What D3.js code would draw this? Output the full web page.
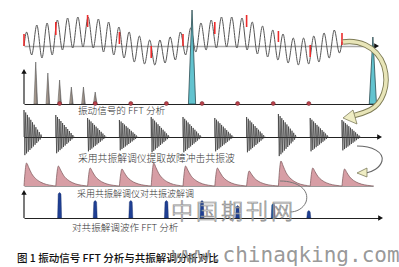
<!DOCTYPE html>
<html>
<head>
<meta charset="utf-8">
<script src="https://cdn.jsdelivr.net/npm/d3@7/dist/d3.min.js"></script>
<style>
  body { margin: 0; background: #fff; }
  svg { display: block; }
</style>
</head>
<body>
<div id="chart"></div>
<script>
/* Vibration signal FFT vs. resonance demodulation — schematic figure */

// ── Raw vibration signal: crest / trough of each carrier cycle (px-like units, up = +)
const crest  = [14, 21, 23, 26, 28, 29, 29, 27, 24, 19, 14, 10, 6, 6, 9, 14,
                18, 23, 26, 29, 29, 28, 24, 20, 16, 12, 8, 8, 10, 13, 16];
const trough = [-9, -12, -9, -4, -2, -1, -2, -6, -9, -12, -16, -18, -19, -17, -14, -9,
                -6, -4, -2, -1, -2, -4, -8, -11, -14, -17, -19, -18, -16, -12, -7];
const waveStart = 0, waveEnd = 4;

// fault impulses (one per impulse period) drawn as red spikes on the signal
const spikeLow  = [0, 11, 19, 2, -12, 0, 12, 19, 4, -11, 1];
const spikeHigh = [12, 24, 31, 14, 0, 12, 24, 31, 15, 1, 13];

// ── FFT of raw signal
const harmFreq = [0.33, 0.67, 1, 1.33, 1.67, 2];
const harmAmp  = [42, 31, 24, 17, 17, 12];
const faultFreq = [1, 2, 3, 4, 5, 6, 7, 8];
const resFreq = [4.72, 9.8];
const resAmp  = [94, 67];

// ── resonance bursts extracted by the demodulator
const burstUp   = [27, 22, 19, 17, 20, 20, 19, 20, 23, 19, 17];
const burstDown = [19, 17, 15, 14, 16, 16, 15, 16, 20, 15, 14];

// ── demodulated envelope
const envAmp = [23, 20, 18, 17, 23, 20, 18, 15, 25, 18, 17];
const envShape = [[0, 0], [0.03, 0.55], [0.08, 1], [0.15, 0.8], [0.24, 0.54], [0.36, 0.33],
                  [0.52, 0.17], [0.7, 0.07], [0.92, 0.015], [1, 0]];

// ── FFT of envelope
const demodAmp = [26, 18, 18, 18, 18, 13, 15, 8];

const captions = ['振动信号的 FFT 分析', '采用共振解调仪提取故障冲击共振波',
                  '采用共振解调仪对共振波解调', '对共振解调波作 FFT 分析'];
const figTitle = '图 1 振动信号 FFT 分析与共振解调分析对比';

const W = 399, H = 267;
const CJK = '"Noto Sans CJK SC", sans-serif';

const svg = d3.select('#chart').append('svg').attr('width', W).attr('height', H);

const tX = d3.scaleLinear().domain([0, 10]).range([24, 342]);   // time, in impulse periods
const fX = d3.scaleLinear().domain([0, 10]).range([24, 380]);   // frequency, in fault-freq units

const y1 = d3.scaleLinear().domain([-30, 30]).range([76, 16]);
const y2 = d3.scaleLinear().domain([0, 100]).range([104, 4]);
const y3 = d3.scaleLinear().domain([-30, 30]).range([167, 107]);
const y4 = d3.scaleLinear().domain([0, 30]).range([186, 156]);
const y5 = d3.scaleLinear().domain([0, 30]).range([218, 188]);

function arrow(x, y, dir, color) {
  const s = 3;
  const p = dir === 'right'
    ? `M${x},${y} L${x - s * 1.6},${y - s * 0.9} L${x - s * 1.6},${y + s * 0.9} Z`
    : `M${x},${y} L${x - s * 0.9},${y + s * 1.6} L${x + s * 0.9},${y + s * 1.6} Z`;
  svg.append('path').attr('d', p).attr('fill', color || '#111');
}

function baseAxis(scale, y, x1, color, width) {
  const g = svg.append('g').attr('transform', `translate(0,${y})`)
    .call(d3.axisBottom(d3.scaleLinear().domain([0, 1]).range([scale.range()[0], x1]))
      .tickValues([]).tickSizeOuter(0));
  g.select('.domain').attr('stroke', color).attr('stroke-width', width);
  return g;
}

// ═══ Panel 1 — raw vibration signal ═══
baseAxis(tX, y1(0), 375, '#a9a9a9', 1.5);
arrow(379, y1(0), 'right');

const CYC = 10 / crest.length;
const wavePts = [[0, waveStart]];
crest.forEach((c, i) => {
  wavePts.push([(i + 0.25) * CYC, c]);
  wavePts.push([(i + 0.75) * CYC, trough[i]]);
});
wavePts.push([10, waveEnd]);

svg.append('path')
  .attr('d', d3.line().x(d => tX(d[0])).y(d => y1(d[1])).curve(d3.curveMonotoneX)(wavePts))
  .attr('fill', 'none').attr('stroke', '#555').attr('stroke-width', 1);

svg.selectAll('.spike').data(spikeLow).enter().append('line')
  .attr('x1', (d, i) => tX(i)).attr('x2', (d, i) => tX(i))
  .attr('y1', d => y1(d)).attr('y2', (d, i) => y1(spikeHigh[i]))
  .attr('stroke', '#ec2b2b').attr('stroke-width', 1.6);

// ═══ Panel 2 — FFT of raw signal ═══
baseAxis(fX, y2(0), 378, '#222', 1.2);
svg.append('line').attr('x1', fX(0)).attr('x2', fX(0)).attr('y1', y2(0)).attr('y2', 73)
  .attr('stroke', '#222').attr('stroke-width', 1.2);
arrow(fX(0), 69, 'up');

const defs = svg.append('defs');
const hg = defs.append('linearGradient').attr('id', 'harm').attr('x1', 0).attr('x2', 1);
hg.append('stop').attr('offset', 0).attr('stop-color', '#c9b6a4');
hg.append('stop').attr('offset', 1).attr('stop-color', '#6e6a6a');

function spikePath(x, yTop, yBase, half) {
  return `M${x - half},${yBase} L${x},${yTop} L${x + half},${yBase} Z`;
}

svg.selectAll('.harm').data(harmFreq).enter().append('path')
  .attr('d', (d, i) => spikePath(fX(d), y2(harmAmp[i]), y2(0), 1.8))
  .attr('fill', 'url(#harm)').attr('stroke', '#444').attr('stroke-width', 0.5);

svg.selectAll('.fdot').data(faultFreq).enter().append('circle')
  .attr('cx', d => fX(d)).attr('cy', y2(0) - 0.5).attr('r', 2)
  .attr('fill', '#b8404a').attr('stroke', '#6a2026').attr('stroke-width', 0.5);

svg.selectAll('.res').data(resFreq).enter().append('path')
  .attr('d', (d, i) => spikePath(fX(d), y2(resAmp[i]), y2(0), 3.6))
  .attr('fill', '#62c3cf').attr('stroke', '#2c4b50').attr('stroke-width', 0.8);

// ═══ Panel 3 — resonance bursts ═══
baseAxis(tX, y3(0), 379, '#222', 1.2);
arrow(382, y3(0), 'right');

const burstLine = d3.line().x(d => d[0]).y(d => y3(d[1]));
svg.selectAll('.burst').data(burstUp).enter().append('path')
  .attr('d', (d, i) => {
    const n = 22, x0 = tX(i), pts = [[x0, 0]];
    for (let j = 0; j <= n; j++) {
      const k = 1 - j / n;
      pts.push([x0 + j * 0.85, j % 2 ? -burstDown[i] * k : d * k]);
    }
    return burstLine(pts);
  })
  .attr('fill', 'none').attr('stroke', '#333').attr('stroke-width', 0.7);

// ═══ Panel 4 — demodulated envelope ═══
baseAxis(tX, y4(0), 373, '#9a9a9a', 1);
const envArea = d3.area().x(d => d[0]).y0(y4(0)).y1(d => y4(d[1])).curve(d3.curveMonotoneX);
const envLine = d3.line().x(d => d[0]).y(d => y4(d[1])).curve(d3.curveMonotoneX);
envAmp.forEach((a, i) => {
  const pts = envShape.map(s => [tX(i + s[0]), a * s[1]]);
  svg.append('path').attr('d', envArea(pts)).attr('fill', '#d79ea5');
  svg.append('path').attr('d', envLine(pts)).attr('fill', 'none')
    .attr('stroke', '#7a5558').attr('stroke-width', 0.7);
});

// ═══ Panel 5 — FFT of envelope ═══
baseAxis(fX, y5(0), 380, '#222', 1.2);
arrow(383, y5(0), 'right');
svg.append('line').attr('x1', fX(0)).attr('x2', fX(0)).attr('y1', y5(0)).attr('y2', 194)
  .attr('stroke', '#222').attr('stroke-width', 1.2);
arrow(fX(0), 190, 'up');

svg.selectAll('.demod').data(faultFreq).enter().append('path')
  .attr('d', (d, i) => {
    const x = fX(d), t = y5(demodAmp[i]), b = y5(0);
    return `M${x - 2},${b} L${x - 1.4},${t + 2} Q${x},${t - 1} ${x + 1.4},${t + 2} L${x + 2},${b} Z`;
  })
  .attr('fill', '#1f3f93').attr('stroke', '#152a66').attr('stroke-width', 0.4);

// ═══ connecting arrows ═══
const bigArc = 'M343,42 C356,40 376,44 384,66 C390,86 382,104 370,110 C362,114 356,115 352,116';
svg.append('path').attr('d', bigArc).attr('fill', 'none').attr('stroke', '#7d7b55').attr('stroke-width', 5.4);
svg.append('path').attr('d', bigArc).attr('fill', 'none').attr('stroke', '#e8e5b8').attr('stroke-width', 3.6);
svg.append('path').attr('d', 'M343,118 L353,110 L357,124 Z')
  .attr('fill', '#efedc4').attr('stroke', '#6f6d4c').attr('stroke-width', 0.7);

svg.append('path').attr('d', 'M357,146 C372,146 384,152 382,161 C380,168 372,172 366,173')
  .attr('fill', 'none').attr('stroke', '#666').attr('stroke-width', 1.1);
svg.append('path').attr('d', 'M357,173 L367,168 L367,177 Z')
  .attr('fill', '#efedc4').attr('stroke', '#6f6d4c').attr('stroke-width', 0.7);

svg.append('path').attr('d', 'M280,181 C298,181 310,190 306,202 C303,209 296,212 290,212')
  .attr('fill', 'none').attr('stroke', '#777').attr('stroke-width', 1);

// ═══ captions ═══
const capY = [114, 161.5, 196.5, 230.5];
const capX = [78, 78, 77, 72];
const capSize = [9.6, 9.8, 9, 9.6];
captions.forEach((c, i) => {
  svg.append('text').attr('x', capX[i]).attr('y', capY[i]).text(c)
    .attr('font-family', CJK).attr('font-size', capSize[i]).attr('font-weight', 300)
    .attr('fill', '#333');
});

// watermark characters
svg.append('text').attr('x', 171).attr('y', 219).text('中国期刊网')
  .attr('font-family', CJK).attr('font-size', 22).attr('font-weight', 300)
  .attr('letter-spacing', 3)
  .attr('fill', 'rgba(255,255,255,0.55)').attr('stroke', '#8a8a8a').attr('stroke-width', 0.7);

svg.append('text').attr('x', 17).attr('y', 262).text(figTitle)
  .attr('font-family', CJK).attr('font-size', 10.5).attr('font-weight', 500).attr('fill', '#111');

svg.append('text').attr('x', 172).attr('y', 262).text('www.chinaqking.com')
  .attr('font-family', '"DejaVu Sans Mono", monospace').attr('font-size', 21)
  .attr('fill', '#8c8c8c').attr('fill-opacity', 0.9);
</script>
</body>
</html>
